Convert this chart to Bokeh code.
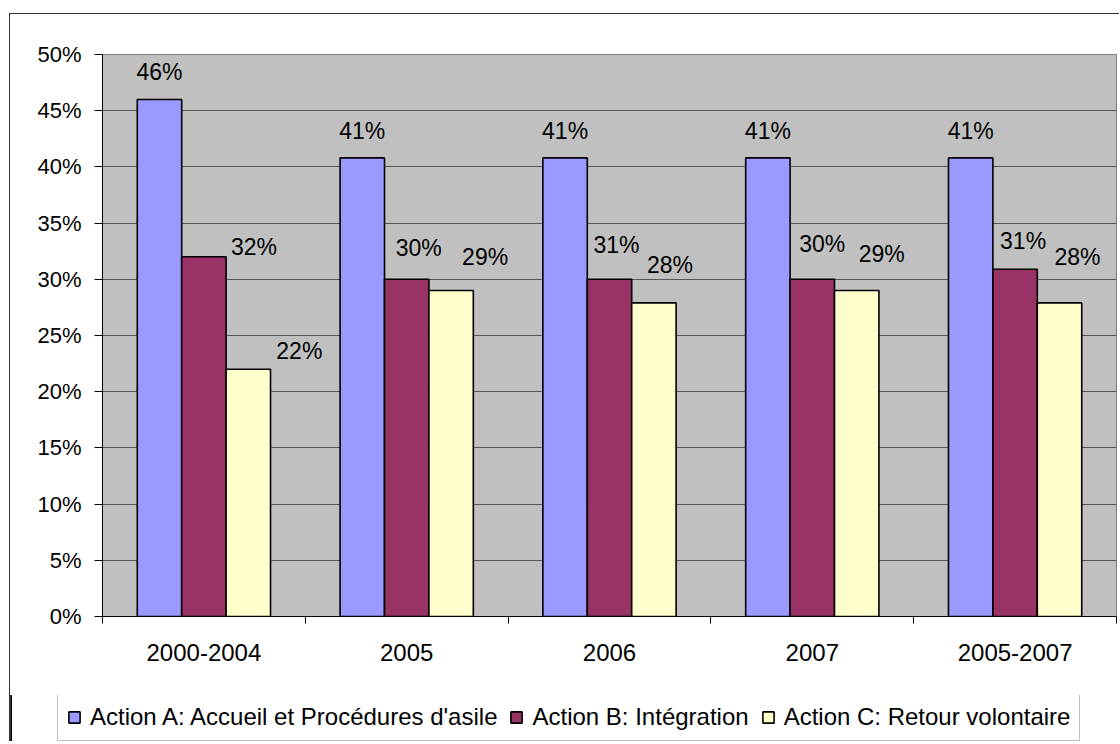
from bokeh.plotting import figure
from bokeh.models import (ColumnDataSource, Range1d, FixedTicker, PrintfTickFormatter,
                          Legend, LegendItem)
from bokeh.core.properties import value
from bokeh.embed import file_html
from bokeh.resources import INLINE

# ---- data ----
categories = ["2000-2004", "2005", "2006", "2007", "2005-2007"]
series_names = ["Action A: Accueil et Procédures d'asile",
                "Action B: Intégration",
                "Action C: Retour volontaire"]
action_a = [46.0, 40.8, 40.8, 40.8, 40.8]
action_b = [32.0, 30.0, 30.0, 30.0, 30.9]
action_c = [22.0, 29.0, 27.9, 29.0, 27.9]
labels_a = ["46%", "41%", "41%", "41%", "41%"]
labels_b = ["32%", "30%", "31%", "30%", "31%"]
labels_c = ["22%", "29%", "28%", "29%", "28%"]
y_ticks = [0, 5, 10, 15, 20, 25, 30, 35, 40, 45, 50]

# ---- styling ----
FONT = "Liberation Sans"
colors = ["#9999FF", "#993366", "#FFFFCC"]
bar_w = 0.219
offsets = [-bar_w, 0.0, bar_w]
# label nudges in pixels (dx right, dy up) relative to bar top centre
nudges = [
    [(0, 27)] * 5,
    [(50, 10), (12, 31), (7, 34), (10, 35), (8, 28)],
    [(51, 18), (34, 34), (16, 38), (25, 37), (18, 46)],
]

p = figure(width=1110, height=682, output_backend="svg", toolbar_location=None,
           x_range=Range1d(0, len(categories)), y_range=Range1d(0, 50),
           min_border_left=92, min_border_right=4, min_border_top=40,
           min_border_bottom=80)
p.styles = {"margin-left": "9px", "margin-top": "13px",
            "border-top": "1px solid #333333", "border-left": "1px solid #333333"}
p.background_fill_color = "#C0C0C0"
p.border_fill_color = "white"
p.outline_line_color = "#808080"
p.outline_line_width = 1

centers = [i + 0.5 for i in range(len(categories))]
all_vals = [action_a, action_b, action_c]
all_labels = [labels_a, labels_b, labels_c]

sources = []
for k in range(3):
    src = ColumnDataSource(dict(
        x=[c + offsets[k] for c in centers],
        top=all_vals[k],
        label=all_labels[k],
        dx=[n[0] for n in nudges[k]],
        dy=[-n[1] for n in nudges[k]],
    ))
    sources.append(src)
    p.vbar(x="x", top="top", bottom=0, width=bar_w, source=src,
           fill_color=colors[k], line_color="black", line_width=1.6)
    p.text(x="x", y="top", text="label", source=src, x_offset="dx", y_offset="dy",
           text_align="center", text_baseline="middle",
           text_font=value(FONT), text_font_size="23px", text_color="black")

# axes
p.xgrid.grid_line_color = None
p.ygrid.grid_line_color = "#555555"
p.ygrid.grid_line_width = 1

p.yaxis.ticker = FixedTicker(ticks=y_ticks)
p.yaxis.formatter = PrintfTickFormatter(format="%d%%")
p.yaxis.major_tick_out = 8
p.yaxis.major_tick_in = 0
p.yaxis.minor_tick_line_color = None
p.yaxis.axis_line_color = "black"
p.yaxis.major_tick_line_color = "black"
p.yaxis.major_label_standoff = 13
p.yaxis.major_label_text_font = FONT
p.yaxis.major_label_text_font_size = "22px"
p.yaxis.major_label_text_color = "black"

p.xaxis.ticker = FixedTicker(ticks=centers, minor_ticks=list(range(len(categories) + 1)))
p.xaxis.major_label_overrides = {c: cat for c, cat in zip(centers, categories)}
p.xaxis.major_tick_out = 0
p.xaxis.major_tick_in = 0
p.xaxis.minor_tick_out = 7
p.xaxis.minor_tick_in = 0
p.xaxis.minor_tick_line_color = "black"
p.xaxis.axis_line_color = "black"
p.xaxis.major_label_standoff = 20
p.xaxis.major_label_text_font = FONT
p.xaxis.major_label_text_font_size = "24px"
p.xaxis.major_label_text_color = "black"

# ---- legend strip: a second small root with the same series styles ----
pl = figure(width=1110, height=46, output_backend="svg", toolbar_location=None,
            x_range=Range1d(100, 101), y_range=Range1d(0, 1),
            x_axis_type=None, y_axis_type=None,
            min_border_left=0, min_border_right=0, min_border_top=0, min_border_bottom=0)
pl.styles = {"margin-left": "9px", "border-left": "1px solid #333333"}
pl.grid.grid_line_color = None
pl.outline_line_color = None
pl.background_fill_color = "white"
pl.border_fill_color = "white"
items = []
for k in range(3):
    # same series drawn out of view; only used for the legend keys
    r = pl.vbar(x="x", top="top", bottom=0, width=bar_w, source=sources[k],
                fill_color=colors[k], line_color="black", line_width=1.6)
    items.append(LegendItem(label=series_names[k], renderers=[r]))

legend = Legend(items=items, orientation="horizontal", location=(47, 0),
                glyph_width=14, glyph_height=14, label_standoff=9, spacing=12,
                padding=9, margin=0, label_height=26,
                label_text_font=FONT, label_text_font_size="24px",
                label_text_color="black",
                border_line_color="#808080", border_line_width=1,
                background_fill_color="white", background_fill_alpha=1)
pl.add_layout(legend, "center")

open("out.html", "w").write(file_html([p, pl], INLINE))
